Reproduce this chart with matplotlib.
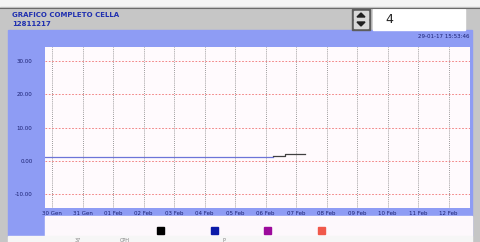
import matplotlib
matplotlib.use("Agg")
import matplotlib.pyplot as plt
from matplotlib.patches import Rectangle, Polygon

# ===== Data =====
TITLE = "GRAFICO COMPLETO CELLA"
SUBTITLE = "12811217"
STAMP = "29-01-17 15:53:46"
SPIN_VALUE = "4"
DAY_LABELS = ["30 Gen", "31 Gen", "01 Feb", "02 Feb", "03 Feb", "04 Feb", "05 Feb",
              "06 Feb", "07 Feb", "08 Feb", "09 Feb", "10 Feb", "11 Feb", "12 Feb"]
Y_TICKS = [30, 20, 10, 0, -10]
# days counted from 30 Gen
blue_days = [-0.3, 7.25]
blue_vals = [1.1, 1.1]
dark_days = [7.25, 7.65, 7.65, 8.3]
dark_vals = [1.5, 1.5, 1.9, 1.9]
LEGEND_COLORS = ["#000000", "#0a1aa8", "#9c0a9c", "#f0584a"]
FOOT_TEXT = ["37", "CPH", "P"]
# ================

W, H = 480, 242
BAND = "#8e9cf4"
GREY = "#c6c6c6"
NAVY = "#1a2070"

fig = plt.figure(figsize=(W / 100, H / 100), dpi=100)

# background canvas in pixel coordinates
bg = fig.add_axes([0, 0, 1, 1])
bg.set_xlim(0, W)
bg.set_ylim(H, 0)
bg.axis("off")
bg.add_patch(Rectangle((0, 0), W, H, color="#f4f4f4"))
bg.add_patch(Rectangle((0, 7), W, H - 7, color=GREY))
bg.plot([0, W], [7.5, 7.5], color="#6a6a6a", lw=0.8)
bg.add_patch(Rectangle((8, 30), 464, 206, color=BAND))
bg.add_patch(Rectangle((45, 216), 427, 20, color="#fdf8fc"))
bg.add_patch(Rectangle((8, 236), 464, 6, color="#f6f6f6"))

bg.text(12, 15, TITLE, color="#2030b0", fontsize=5, fontweight="bold",
        va="center", ha="left")
bg.text(12, 24, SUBTITLE, color="#2030b0", fontsize=5, fontweight="bold",
        va="center", ha="left")
bg.text(470, 36, STAMP, color=NAVY, fontsize=4, va="center", ha="right")

# spin box
bg.add_patch(Rectangle((352, 9), 18, 21, color="#5c5c5c"))
bg.add_patch(Rectangle((354, 11), 14, 8, color="#d8d8d8"))
bg.add_patch(Rectangle((354, 20), 14, 8, color="#d8d8d8"))
bg.add_patch(Polygon([(357, 17), (365, 17), (361, 13)], color="#202020"))
bg.add_patch(Polygon([(357, 22), (365, 22), (361, 26)], color="#202020"))
bg.add_patch(Rectangle((373, 9), 92, 21, color="white"))
bg.text(385, 19.5, SPIN_VALUE, color="#202020", fontsize=9, va="center", ha="left")

# legend squares
for i, c in enumerate(LEGEND_COLORS):
    bg.add_patch(Rectangle((157 + i * 53.5, 227), 7, 7, color=c))

for x, t in zip([78, 125, 224], FOOT_TEXT):
    bg.text(x, 241, t, color="#808080", fontsize=3.5, va="center", ha="center")

# main plot area
x0, x1, y0, y1 = 45, 470, 47, 208
ax = fig.add_axes([x0 / W, 1 - y1 / H, (x1 - x0) / W, (y1 - y0) / H])
ax.set_facecolor("#fffafd")
for s in ax.spines.values():
    s.set_visible(False)

ax.plot(blue_days, blue_vals, color="#6c74d8", lw=0.9)
ax.plot(dark_days, dark_vals, color="#404040", lw=0.9)

ax.set_xlim(-0.23, 13.7)
ax.set_ylim(-14.2, 34.2)
ax.set_xticks(range(len(DAY_LABELS)))
ax.set_xticklabels(DAY_LABELS)
ax.set_yticks(Y_TICKS)
ax.set_yticklabels([f"{v:.2f}" for v in Y_TICKS])
ax.tick_params(length=0, labelsize=4, labelcolor=NAVY)
ax.tick_params(axis="x", pad=2.5)
ax.tick_params(axis="y", pad=9)

for d in range(len(DAY_LABELS)):
    ax.axvline(d, color="#7a7a7a", lw=0.6, ls=(0, (1, 1.5)), zorder=0)
for v in Y_TICKS:
    ax.axhline(v, color="#f07070", lw=0.6, ls=(0, (2, 2)), zorder=0)

fig.savefig("out.png", dpi=100)
